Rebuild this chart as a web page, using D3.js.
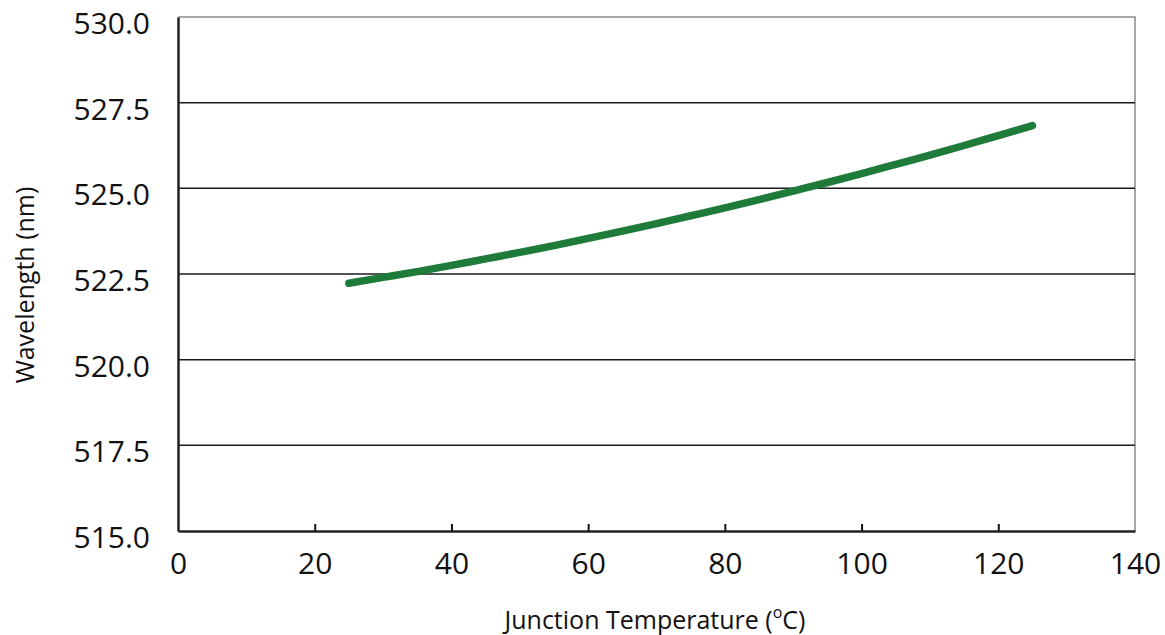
<!DOCTYPE html>
<html>
<head>
<meta charset="utf-8">
<script src="https://cdn.jsdelivr.net/npm/d3@7"></script>
<style>
  body { margin: 0; background: #fff; }
  svg { font-family: "Open Sans", sans-serif; }
</style>
</head>
<body>
<svg width="1165" height="635"></svg>
<script>
// junction temperature (C) and peak wavelength (nm)
let temps = [25, 30, 35, 40, 45, 50, 55, 60, 65, 70, 75, 80, 85, 90, 95, 100, 105, 110, 115, 120, 125];
let wavelengths = [522.23, 522.40, 522.57, 522.75, 522.94, 523.13, 523.33, 523.54, 523.75, 523.97,
    524.20, 524.43, 524.67, 524.92, 525.17, 525.43, 525.70, 525.97, 526.25, 526.54, 526.83];
let xTicks = [0, 20, 40, 60, 80, 100, 120, 140];
let yTicks = [515.0, 517.5, 520.0, 522.5, 525.0, 527.5, 530.0];

let svg = d3.select("svg");
let plotL = 178, plotR = 1135, plotT = 17, plotB = 531;

let x = d3.scaleLinear().domain([0, 140]).range([plotL, plotR]);
let y = d3.scaleLinear().domain([515, 530]).range([plotB, plotT]);

// outer frame: light top/right edge
svg.append("path")
    .attr("d", `M${plotL},${plotT}H${plotR}V${plotB}`)
    .attr("fill", "none")
    .attr("stroke", "#8a8a8a")
    .attr("stroke-width", 1.5);

// horizontal grid lines
svg.append("g").selectAll("line")
    .data(yTicks.slice(1, -1))
    .enter()
    .append("line")
    .attr("x1", plotL)
    .attr("x2", plotR)
    .attr("y1", d => y(d))
    .attr("y2", d => y(d))
    .attr("stroke", "#1a1a1a")
    .attr("stroke-width", 1.5);

// x axis with inward ticks
let xAxis = svg.append("g")
    .attr("transform", `translate(0,${plotB})`)
    .call(d3.axisBottom(x).tickValues(xTicks).tickSizeInner(-7).tickSizeOuter(0).tickPadding(22));
xAxis.select(".domain").attr("stroke", "#222").attr("stroke-width", 2.5);
xAxis.selectAll(".tick line").attr("stroke", "#111").attr("stroke-width", 2);
xAxis.selectAll(".tick text")
    .attr("font-size", 30)
    .attr("font-family", "Open Sans, sans-serif")
    .attr("fill", "#111");
xAxis.selectAll(".tick").filter(d => d === 0 || d === 140).select("line").remove();

// y axis
let yAxis = svg.append("g")
    .attr("transform", `translate(${plotL},0)`)
    .call(d3.axisLeft(y).tickValues(yTicks).tickFormat(d3.format(".1f")).tickSize(0).tickPadding(28));
yAxis.select(".domain").attr("stroke", "#222").attr("stroke-width", 2.5);
yAxis.selectAll(".tick text")
    .attr("font-size", 30)
    .attr("font-family", "Open Sans, sans-serif")
    .attr("fill", "#111")
    .attr("dy", "0.55em");

// the curve
let line = d3.line()
    .x((d, i) => x(temps[i]))
    .y(d => y(d))
    .curve(d3.curveMonotoneX);

svg.append("path")
    .datum(wavelengths)
    .attr("d", line)
    .attr("fill", "none")
    .attr("stroke", "#1e7b3a")
    .attr("stroke-width", 7.5)
    .attr("stroke-linecap", "round");

// axis titles
let xt = svg.append("text")
    .attr("x", 655)
    .attr("y", 629)
    .attr("text-anchor", "middle")
    .attr("font-size", 25)
    .attr("fill", "#111")
    .text("Junction Temperature (");
xt.append("tspan").attr("baseline-shift", "super").attr("font-size", 16).text("o");
xt.append("tspan").text("C)");

svg.append("text")
    .attr("transform", "translate(34,285) rotate(-90)")
    .attr("text-anchor", "middle")
    .attr("font-size", 25)
    .attr("fill", "#111")
    .text("Wavelength (nm)");
</script>
</body>
</html>
